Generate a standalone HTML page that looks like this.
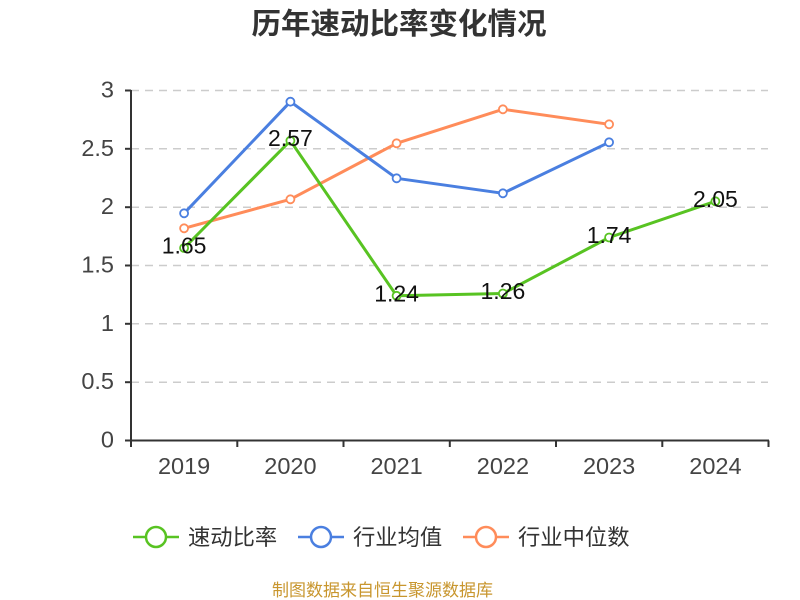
<!DOCTYPE html>
<html><head><meta charset="utf-8"><style>
html,body{margin:0;padding:0;background:#fff;}
svg{display:block;}
text{font-family:"Liberation Sans","Noto Sans CJK SC",sans-serif;}
</style></head><body>
<svg width="800" height="600" viewBox="0 0 800 600" xmlns="http://www.w3.org/2000/svg">
<rect width="800" height="600" fill="#fff"/>
<text x="399" y="34" text-anchor="middle" font-size="29.5" font-weight="bold" fill="#333">历年速动比率变化情况</text>
<g stroke="#ccc" stroke-width="1.5" stroke-dasharray="8 6">
<line x1="131" y1="90.5" x2="768" y2="90.5"/>
<line x1="131" y1="148.8" x2="768" y2="148.8"/>
<line x1="131" y1="207.2" x2="768" y2="207.2"/>
<line x1="131" y1="265.5" x2="768" y2="265.5"/>
<line x1="131" y1="323.8" x2="768" y2="323.8"/>
<line x1="131" y1="382.2" x2="768" y2="382.2"/>
</g>
<g stroke="#333" stroke-width="2">
<line x1="131" y1="90" x2="131" y2="447"/>
<line x1="130" y1="440.5" x2="769" y2="440.5"/>
<line x1="125" y1="90.5" x2="131" y2="90.5"/>
<line x1="125" y1="148.8" x2="131" y2="148.8"/>
<line x1="125" y1="207.2" x2="131" y2="207.2"/>
<line x1="125" y1="265.5" x2="131" y2="265.5"/>
<line x1="125" y1="323.8" x2="131" y2="323.8"/>
<line x1="125" y1="382.2" x2="131" y2="382.2"/>
<line x1="125" y1="440.5" x2="131" y2="440.5"/>
<line x1="237.3" y1="440.5" x2="237.3" y2="447"/>
<line x1="343.5" y1="440.5" x2="343.5" y2="447"/>
<line x1="449.8" y1="440.5" x2="449.8" y2="447"/>
<line x1="556" y1="440.5" x2="556" y2="447"/>
<line x1="662.3" y1="440.5" x2="662.3" y2="447"/>
<line x1="768.5" y1="440.5" x2="768.5" y2="447"/>
</g>
<g font-size="23.5" fill="#444" text-anchor="end">
<text x="114" y="97.5">3</text>
<text x="114" y="155.8">2.5</text>
<text x="114" y="214.2">2</text>
<text x="114" y="272.5">1.5</text>
<text x="114" y="330.8">1</text>
<text x="114" y="389.2">0.5</text>
<text x="114" y="447.5">0</text>
</g>
<g font-size="23.5" fill="#444" text-anchor="middle">
<text x="184.1" y="474">2019</text>
<text x="290.4" y="474">2020</text>
<text x="396.6" y="474">2021</text>
<text x="502.9" y="474">2022</text>
<text x="609.1" y="474">2023</text>
<text x="715.4" y="474">2024</text>
</g>
<g fill="none" stroke-width="3" stroke-linejoin="round">
<polyline stroke="#ff8c5a" points="184.1,228.3 290.4,199.3 396.6,143.3 502.9,109.3 609.1,124.3"/>
<polyline stroke="#4a7fe0" points="184.1,213.3 290.4,101.7 396.6,178.3 502.9,193.3 609.1,142.3"/>
<polyline stroke="#58c322" points="184.1,248 290.4,140.7 396.6,295.8 502.9,293.5 609.1,237.5 715.4,201.3"/>
</g>
<g fill="#fff" stroke-width="1.8">
<g stroke="#ff8c5a">
<circle cx="184.1" cy="228.3" r="4"/><circle cx="290.4" cy="199.3" r="4"/><circle cx="396.6" cy="143.3" r="4"/><circle cx="502.9" cy="109.3" r="4"/><circle cx="609.1" cy="124.3" r="4"/>
</g>
<g stroke="#4a7fe0">
<circle cx="184.1" cy="213.3" r="4"/><circle cx="290.4" cy="101.7" r="4"/><circle cx="396.6" cy="178.3" r="4"/><circle cx="502.9" cy="193.3" r="4"/><circle cx="609.1" cy="142.3" r="4"/>
</g>
<g stroke="#58c322">
<circle cx="184.1" cy="248" r="4"/><circle cx="290.4" cy="140.7" r="4"/><circle cx="396.6" cy="295.8" r="4"/><circle cx="502.9" cy="293.5" r="4"/><circle cx="609.1" cy="237.5" r="4"/><circle cx="715.4" cy="201.3" r="4"/>
</g>
</g>
<g font-size="23" fill="#111" text-anchor="middle">
<text x="184.1" y="253.5">1.65</text>
<text x="290.4" y="146.2">2.57</text>
<text x="396.6" y="301.3">1.24</text>
<text x="502.9" y="299">1.26</text>
<text x="609.1" y="243">1.74</text>
<text x="715.4" y="206.8">2.05</text>
</g>
<g stroke-width="2.5" fill="#fff">
<line x1="133" y1="537" x2="179" y2="537" stroke="#58c322"/>
<circle cx="156" cy="537" r="10" stroke="#58c322"/>
<line x1="298" y1="537" x2="344" y2="537" stroke="#4a7fe0"/>
<circle cx="321" cy="537" r="10" stroke="#4a7fe0"/>
<line x1="463" y1="537" x2="509" y2="537" stroke="#ff8c5a"/>
<circle cx="486" cy="537" r="10" stroke="#ff8c5a"/>
</g>
<g font-size="22.3" fill="#333">
<text x="188" y="545">速动比率</text>
<text x="353" y="545">行业均值</text>
<text x="518" y="545">行业中位数</text>
</g>
<text x="272" y="596" font-size="17" fill="#c8962e">制图数据来自恒生聚源数据库</text>
</svg>
</body></html>
